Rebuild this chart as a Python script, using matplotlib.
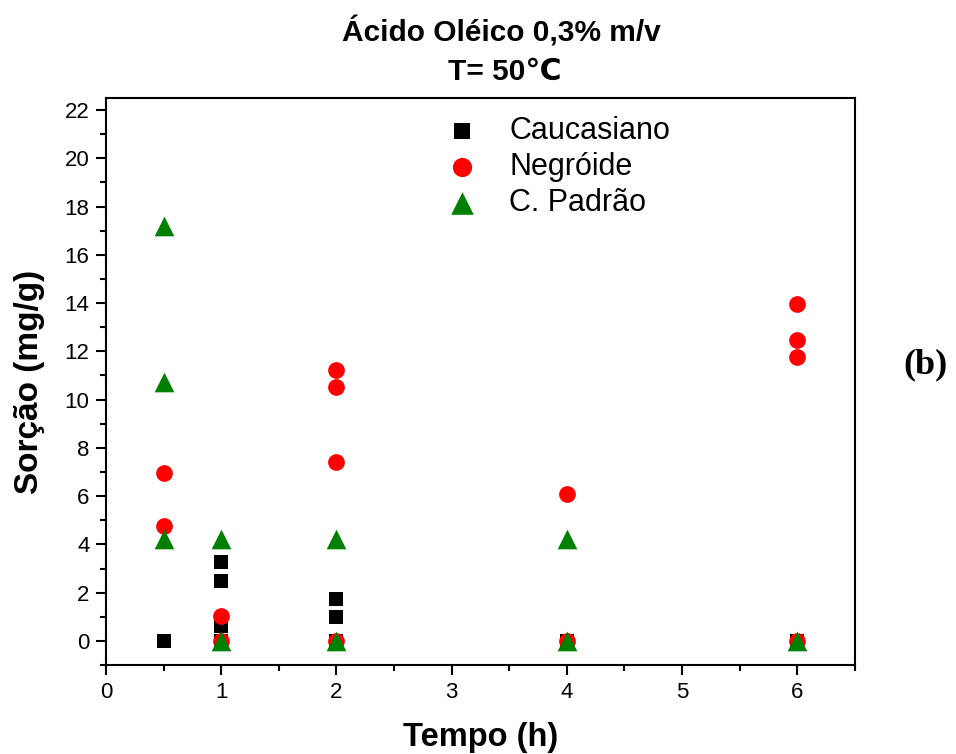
import matplotlib
matplotlib.use("Agg")
import matplotlib.pyplot as plt
from matplotlib.ticker import MultipleLocator

plt.rcParams['font.family'] = ['Liberation Sans', 'DejaVu Sans']

# Data
cauc_x = [0.5, 1, 1, 1, 1, 2, 2, 2, 4, 6]
cauc_y = [0.0, 3.25, 2.5, 0.62, 0.0, 1.74, 0.98, 0.0, 0.0, 0.0]

negr_x = [0.5, 0.5, 1, 1, 2, 2, 2, 2, 4, 4, 6, 6, 6, 6]
negr_y = [6.97, 4.76, 1.05, 0.0, 11.23, 10.53, 7.41, 0.0, 6.1, 0.0, 13.96, 12.47, 11.76, 0.0]

padr_x = [0.5, 0.5, 0.5, 1, 1, 2, 2, 4, 4, 6]
padr_y = [17.2, 10.72, 4.22, 4.22, 0.0, 4.22, 0.0, 4.22, 0.0, 0.0]

labels = ["Caucasiano", "Negróide", "C. Padrão"]

fig = plt.figure(figsize=(9.56, 7.54), dpi=100)
ax = fig.add_axes([0.111, 0.118, 0.783, 0.752])

ax.scatter(cauc_x, cauc_y, marker='s', s=105, color='black', label=labels[0], zorder=3, linewidths=0)
ax.scatter(negr_x, negr_y, marker='o', s=145, color='#ff0000', label=labels[1], zorder=4, linewidths=0)
ax.scatter(padr_x, padr_y, marker='^', s=200, color='#008000', label=labels[2], zorder=5, linewidths=0)

ax.set_xlim(0, 6.5)
ax.set_ylim(-1, 22.5)
ax.xaxis.set_major_locator(MultipleLocator(1))
ax.xaxis.set_minor_locator(MultipleLocator(0.5))
ax.yaxis.set_major_locator(MultipleLocator(2))
ax.yaxis.set_minor_locator(MultipleLocator(1))
ax.tick_params(axis='both', which='major', direction='out', length=7, width=1.5, labelsize=16, pad=5)
ax.tick_params(axis='both', which='minor', direction='out', length=4, width=1.5)
for sp in ax.spines.values():
    sp.set_linewidth(1.5)

ax.set_xlabel("Tempo (h)", fontsize=23.5, fontweight='bold', labelpad=14)
ax.set_ylabel("Sorção (mg/g)", fontsize=24, fontweight='bold', labelpad=14)
fig.text(0.524, 0.958, "Ácido Oléico 0,3% m/v", fontsize=21.5, fontweight='bold',
         ha='center', va='center')
fig.text(0.528, 0.905, "T= 50℃", fontsize=21.5, fontweight='bold',
         ha='center', va='center')

leg = ax.legend(loc='upper left', bbox_to_anchor=(0.41, 1.0), frameon=False, fontsize=22,
                handletextpad=0.55, labelspacing=0.185, scatterpoints=1, markerscale=1.15,
                borderaxespad=0.2)

fig.text(0.968, 0.516, "(b)", fontsize=26, fontweight='bold', family='Liberation Serif',
         ha='center', va='center')

fig.savefig("out.png", dpi=100)
